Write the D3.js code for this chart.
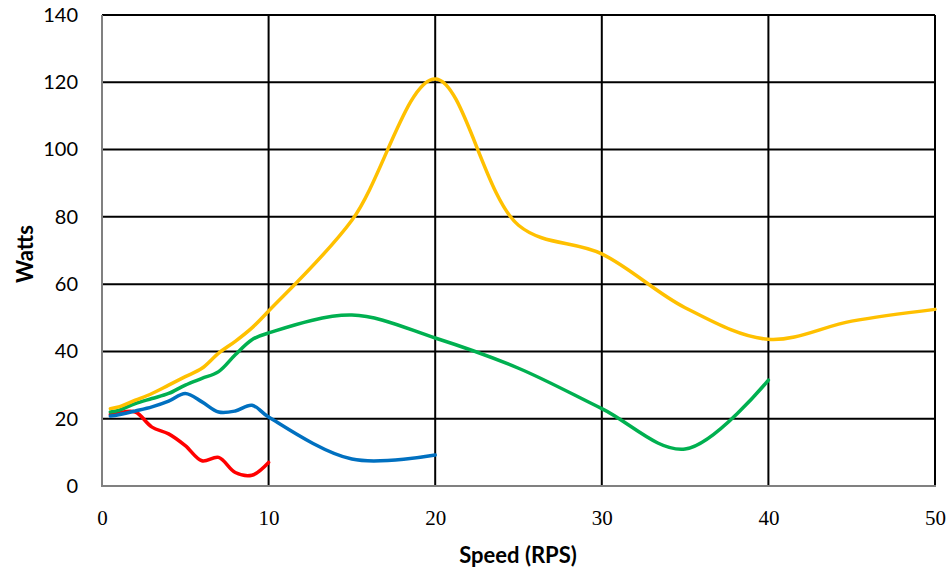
<!DOCTYPE html>
<html><head><meta charset="utf-8">
<script src="https://cdn.jsdelivr.net/npm/d3@7"></script>
<style>body{margin:0;background:#fff}</style>
</head><body>
<svg id="c" width="949" height="571"></svg>
<script>
const xTicks = [0,10,20,30,40,50];
const yTicks = [0,20,40,60,80,100,120,140];

const yellowX = [0.5,1,2,3,4,5,6,7,8,9,10,15,20,25,30,35,40,45,50];
const yellowY = [23,23.5,25.5,27.5,30,32.5,35,39.5,43,47,52,79,121,77.5,69,53,43.6,49,52.5];

const greenX = [0.5,1,2,3,4,5,6,7,8,9,10,15,20,25,30,35,40];
const greenY = [22,22.5,24.5,26,27.5,30,32,34,39,43.5,45.5,50.8,44,35,23,11,31.5];

const blueX = [0.5,1,2,3,4,5,6,7,8,9,10,15,20];
const blueY = [20.8,21.2,22.3,23.5,25.2,27.5,25,22,22.3,24,20.5,8,9.2];

const redX = [0.5,1,2,3,4,5,6,7,8,9,10];
const redY = [21.3,21.8,22,17.5,15.5,12,7.5,8.5,4,3.2,7];

// drawn in this order (last on top)
const series = [
  {name:"red", color:"#FF0000", xs:redX, ys:redY},
  {name:"blue", color:"#0070C0", xs:blueX, ys:blueY},
  {name:"green", color:"#00B050", xs:greenX, ys:greenY},
  {name:"yellow", color:"#FFC000", xs:yellowX, ys:yellowY}
];

const svg = d3.select("#c");
const L=102, R=935, T=15, B=486;
const x = d3.scaleLinear().domain([0,50]).range([L,R]);
const y = d3.scaleLinear().domain([0,140]).range([B,T]);

// grid
const g = svg.append("g");
g.selectAll("line.h").data(yTicks.filter(d=>d>0)).join("line")
  .attr("x1",L).attr("x2",R).attr("y1",d=>y(d)).attr("y2",d=>y(d))
  .attr("stroke","#000").attr("stroke-width",2);
g.selectAll("line.v").data(xTicks.filter(d=>d>0)).join("line")
  .attr("x1",d=>x(d)).attr("x2",d=>x(d)).attr("y1",T).attr("y2",B)
  .attr("stroke","#000").attr("stroke-width",2);
// axes lines
svg.append("line").attr("x1",L).attr("x2",L).attr("y1",T).attr("y2",B).attr("stroke","#808080").attr("stroke-width",2);
svg.append("line").attr("x1",L-1).attr("x2",R+1).attr("y1",B).attr("y2",B).attr("stroke","#808080").attr("stroke-width",2);

// y tick labels
const yAxis = d3.axisLeft(y).tickValues(yTicks).tickSize(0).tickPadding(24);
const ya = svg.append("g").attr("transform",`translate(${L},0)`).call(yAxis);
ya.select(".domain").remove();
ya.selectAll("text").attr("font-family","Lato, 'Open Sans', sans-serif").attr("font-size",20).attr("fill","#000");

const xAxis = d3.axisBottom(x).tickValues(xTicks).tickSize(0).tickPadding(24);
const xa = svg.append("g").attr("transform",`translate(0,${B})`).call(xAxis);
xa.select(".domain").remove();
xa.selectAll("text").attr("font-family","'Liberation Serif', serif").attr("font-size",21).attr("fill","#000");

// lines
const line = d3.line().x(d=>x(d[0])).y(d=>y(d[1])).curve(d3.curveCatmullRom.alpha(0.5));
series.forEach(s=>{
  const pts = s.xs.map((v,i)=>[v,s.ys[i]]);
  svg.append("path").datum(pts).attr("d",line).attr("fill","none")
    .attr("stroke",s.color).attr("stroke-width",3.5).attr("stroke-linejoin","round").attr("stroke-linecap","round");
});

// titles
svg.append("text").attr("x",518).attr("y",563).attr("text-anchor","middle")
  .attr("font-family","Lato, 'Open Sans', sans-serif").attr("font-weight","bold").attr("font-size",22).text("Speed (RPS)");
svg.append("text").attr("transform","translate(33,254) rotate(-90)").attr("text-anchor","middle")
  .attr("font-family","Lato, 'Open Sans', sans-serif").attr("font-weight","bold").attr("font-size",22).text("Watts");
</script>
</body></html>
